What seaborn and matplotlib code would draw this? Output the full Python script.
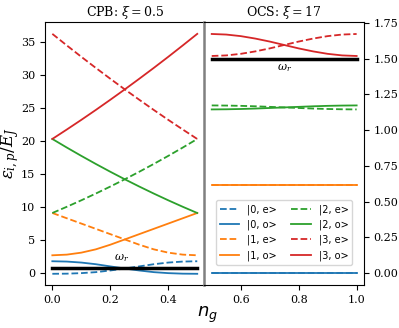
import numpy as np
import pandas as pd
import matplotlib
matplotlib.use("Agg")
import matplotlib.pyplot as plt
import seaborn as sns

plt.rcParams['font.family'] = ['DejaVu Serif']
plt.rcParams['mathtext.fontset'] = 'dejavuserif'

# ---- data ----
ng_cpb = [0.0, 0.05, 0.1, 0.15, 0.2, 0.25, 0.3, 0.35, 0.4, 0.45, 0.5]
ng_ocs = [0.5, 0.55, 0.6, 0.65, 0.7, 0.75, 0.8, 0.85, 0.9, 0.95, 1.0]

cpb_0o = [1.8, 1.75, 1.6, 1.35, 1.02, 0.7, 0.4, 0.15, 0.0, -0.08, -0.1]
cpb_1o = [2.7, 2.8, 3.1, 3.6, 4.3, 5.1, 5.9, 6.7, 7.5, 8.3, 9.1]
cpb_2o = [20.3, 19.0, 17.74, 16.52, 15.34, 14.2, 13.1, 12.04, 11.02, 10.04, 9.1]
cpb_3o = [20.3, 21.73, 23.19, 24.69, 26.23, 27.8, 29.41, 31.05, 32.73, 34.45, 36.2]
cpb_0e = cpb_0o[::-1]
cpb_1e = cpb_1o[::-1]
cpb_2e = cpb_2o[::-1]
cpb_3e = cpb_3o[::-1]

ocs_0e = [0.0] * 11
ocs_0o = [0.0] * 11
ocs_1e = [0.615] * 11
ocs_1o = [0.615] * 11
ocs_2e = [1.173, 1.172, 1.170, 1.167, 1.163, 1.159, 1.155, 1.151, 1.148, 1.146, 1.145]
ocs_2o = ocs_2e[::-1]
ocs_3o = [1.673, 1.669, 1.658, 1.641, 1.620, 1.596, 1.572, 1.551, 1.534, 1.523, 1.519]
ocs_3e = ocs_3o[::-1]

omega_r_cpb = 0.8
omega_r_ocs = 1.5

labels = ["|0, e>", "|0, o>", "|1, e>", "|1, o>", "|2, e>", "|2, o>", "|3, e>", "|3, o>"]
colors = ["#1f77b4", "#1f77b4", "#ff7f0e", "#ff7f0e", "#2ca02c", "#2ca02c", "#d62728", "#d62728"]
styles = ["--", "-", "--", "-", "--", "-", "--", "-"]

cpb_series = [cpb_0e, cpb_0o, cpb_1e, cpb_1o, cpb_2e, cpb_2o, cpb_3e, cpb_3o]
ocs_series = [ocs_0e, ocs_0o, ocs_1e, ocs_1o, ocs_2e, ocs_2o, ocs_3e, ocs_3o]

fig, (ax1, ax2) = plt.subplots(1, 2, figsize=(3.99, 3.28), dpi=100)
fig.subplots_adjust(left=0.113, right=0.912, top=0.933, bottom=0.131, wspace=0)

lw = 1.3
for vals, c, ls, lab in zip(cpb_series, colors, styles, labels):
    sns.lineplot(x=ng_cpb, y=vals, ax=ax1, color=c, linestyle=ls, lw=lw, legend=False)
sns.lineplot(x=[ng_cpb[0], ng_cpb[-1]], y=[omega_r_cpb] * 2, ax=ax1, color="black", lw=2.5, legend=False)
ax1.text(0.24, omega_r_cpb + 0.6, r"$\omega_r$", ha="center", va="bottom", fontsize=8)

for vals, c, ls, lab in zip(ocs_series, colors, styles, labels):
    sns.lineplot(x=ng_ocs, y=vals, ax=ax2, color=c, linestyle=ls, lw=lw, label=lab)
sns.lineplot(x=[ng_ocs[0], ng_ocs[-1]], y=[omega_r_ocs] * 2, ax=ax2, color="black", lw=2.5, legend=False)
ax2.text(0.75, omega_r_ocs - 0.025, r"$\omega_r$", ha="center", va="top", fontsize=8)

ax1.set_title(r"CPB: $\xi = 0.5$", fontsize=9, pad=4)
ax2.set_title(r"OCS: $\xi = 17$", fontsize=9, pad=4)

ax1.set_xticks([0.0, 0.2, 0.4])
ax2.set_xticks([0.6, 0.8, 1.0])
ax1.set_yticks([0, 5, 10, 15, 20, 25, 30, 35])
ax2.set_yticks([0.0, 0.25, 0.5, 0.75, 1.0, 1.25, 1.5, 1.75])
ax1.set_ylim(-1.8, 38.0)
ax2.set_ylim(-0.084, 1.757)
ax1.set_xlim(-0.025, 0.525)
ax2.set_xlim(0.475, 1.025)

ax2.yaxis.tick_right()
ax1.spines['right'].set_visible(False)
ax2.spines['left'].set_color('gray')
ax2.spines['left'].set_linewidth(1.8)
for ax in (ax1, ax2):
    ax.tick_params(labelsize=8)
    ax.set_xlabel("")
    ax.set_ylabel("")

ax1.set_ylabel(r"$\epsilon_{i,p}/E_J$", fontsize=12)
ax1.yaxis.set_label_coords(-0.15, 0.5)
fig.text(0.52, 0.04, r"$n_g$", ha="center", va="center", fontsize=13,
         math_fontfamily='dejavusans')

leg = ax2.legend(ncol=2, loc="center", bbox_to_anchor=(0.5, 0.2),
                 prop={'family': 'DejaVu Sans', 'size': 7}, handlelength=2.0,
                 columnspacing=1.5, labelspacing=0.5)

fig.savefig("out.png", dpi=100)
